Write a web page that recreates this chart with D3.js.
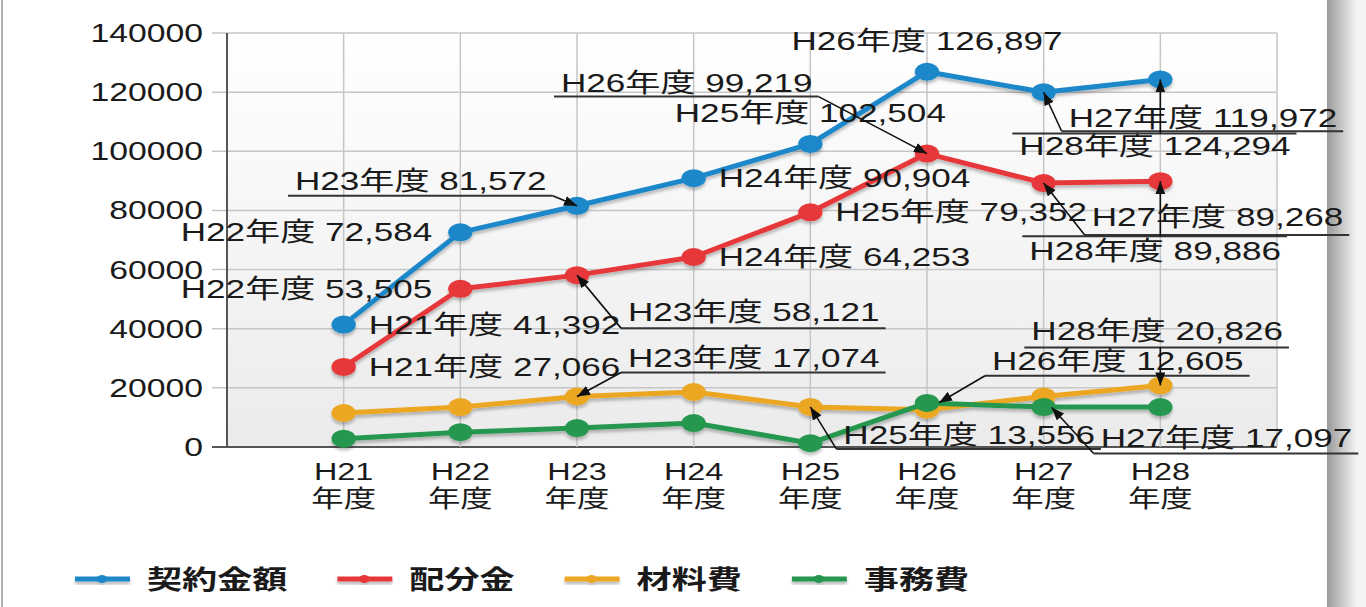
<!DOCTYPE html>
<meta charset="utf-8">
<style>
  body { margin: 0; background: #fff; }
  svg text { font-family: "Liberation Sans", Arial, "Noto Sans CJK JP", sans-serif; fill: #1a1a1a; }
</style>
<body>
<script src="https://cdn.jsdelivr.net/npm/d3@7/dist/d3.min.js"></script>
<script>
// data
var years = ["H21", "H22", "H23", "H24", "H25", "H26", "H27", "H28"];
var seriesNames = ["契約金額", "配分金", "材料費", "事務費"];
var keiyaku = [41392, 72584, 81572, 90904, 102504, 126897, 119972, 124294];
var haibun  = [27066, 53505, 58121, 64253, 79352, 99219, 89268, 89886];
var zairyo  = [11500, 13500, 17074, 18600, 13556, 12605, 17097, 20826];
var jimu    = [2800, 5000, 6400, 8100, 1300, 14900, 13500, 13500];
var yTicks  = [0, 20000, 40000, 60000, 80000, 100000, 120000, 140000];
var colors  = ["#1f88c9", "#e6393a", "#eba623", "#26974f"];

var series = [keiyaku, haibun, zairyo, jimu];

// label placement, offsets in px from the data point
var simpleLabels = [
  {s: 0, i: 5, pos: "above"}, {s: 0, i: 4, pos: "above"},
  {s: 0, i: 1, pos: "left"},  {s: 1, i: 1, pos: "left"},
  {s: 0, i: 0, pos: "right"}, {s: 1, i: 0, pos: "right"},
  {s: 0, i: 3, pos: "right"}, {s: 1, i: 3, pos: "right"},
  {s: 1, i: 4, pos: "right"}
];
var callouts = [
  {s: 0, i: 2, tx: -282, ty: -16, uy: -10, from: "right"},
  {s: 1, i: 5, tx: -366, ty: -62, uy: -57, from: "right"},
  {s: 0, i: 6, tx: 25,   ty: 35,  uy: 39,  from: "left"},
  {s: 0, i: 7, tx: -141, ty: 76,  uy: 54,  from: "center"},
  {s: 1, i: 6, tx: 48,   ty: 43,  uy: 52,  from: "left"},
  {s: 1, i: 7, tx: -131, ty: 79,  uy: 55,  from: "center"},
  {s: 1, i: 2, tx: 51,   ty: 46,  uy: 53,  from: "left"},
  {s: 2, i: 2, tx: 51,   ty: -30, uy: -24, from: "left"},
  {s: 2, i: 4, tx: 33,   ty: 37,  uy: 42,  from: "left"},
  {s: 2, i: 6, tx: 57,   ty: 51,  uy: 57,  from: "left", end: [8, 11]},
  {s: 2, i: 5, tx: 65,   ty: -40, uy: -34, from: "left", end: [12, -7]},
  {s: 2, i: 7, tx: -129, ty: -45, uy: -38, from: "center"}
];

var SX = 1.35; // the picture is stretched sideways
var W = 1366, H = 607;
var plotL = 227, plotR = 1277, plotT = 33, plotB = 447;

var svg = d3.select("body").append("svg")
  .attr("width", W).attr("height", H);

var defs = svg.append("defs");
var grad = defs.append("linearGradient").attr("id", "plotbg")
  .attr("x1", 0).attr("y1", 0).attr("x2", 0).attr("y2", 1);
grad.append("stop").attr("offset", "0%").attr("stop-color", "#ffffff");
grad.append("stop").attr("offset", "100%").attr("stop-color", "#ebebeb");

var edge = defs.append("linearGradient").attr("id", "edge");
edge.append("stop").attr("offset", "0%").attr("stop-color", "#9a9a9a");
edge.append("stop").attr("offset", "100%").attr("stop-color", "#f4f4f4");

defs.append("filter").attr("id", "shadow")
  .attr("x", "-5%").attr("y", "-20%").attr("width", "110%").attr("height", "140%")
  .append("feDropShadow").attr("dx", 0).attr("dy", 3).attr("stdDeviation", 1.8)
  .attr("flood-color", "#000").attr("flood-opacity", 0.25);

defs.append("marker").attr("id", "arrow")
  .attr("markerUnits", "userSpaceOnUse")
  .attr("markerWidth", 14).attr("markerHeight", 10)
  .attr("refX", 13).attr("refY", 5).attr("orient", "auto")
  .append("path").attr("d", "M0,0 L13,5 L0,10 Z").attr("fill", "#111");

// page frame
svg.append("rect").attr("x", 1).attr("y", 0).attr("width", 2).attr("height", H).attr("fill", "#b0b0b0");
svg.append("rect").attr("x", 1327).attr("y", 0).attr("width", 30).attr("height", H).attr("fill", "url(#edge)");
svg.append("rect").attr("x", 1357).attr("y", 0).attr("width", 9).attr("height", H).attr("fill", "#f4f4f4");

var x = d3.scaleLinear().domain([0, years.length + 1]).range([plotL, plotR]);
var y = d3.scaleLinear().domain([0, 140000]).range([plotB, plotT]);

function stretched(sel, px, py) {
  return sel.attr("transform", "translate(" + px + "," + py + ") scale(" + SX + ",1)");
}

svg.append("rect").attr("x", plotL).attr("y", plotT)
  .attr("width", plotR - plotL).attr("height", plotB - plotT)
  .attr("fill", "url(#plotbg)");

// grid
svg.append("g").selectAll("line").data(yTicks).enter().append("line")
  .attr("x1", plotL - 15).attr("x2", plotR)
  .attr("y1", function(d) { return y(d); }).attr("y2", function(d) { return y(d); })
  .attr("stroke", function(d) { return d === 0 ? "#555" : "#c6c6c6"; })
  .attr("stroke-width", function(d) { return d === 0 ? 2 : 1.5; });
svg.append("g").selectAll("line").data(d3.range(years.length + 2)).enter().append("line")
  .attr("x1", function(d) { return x(d); }).attr("x2", function(d) { return x(d); })
  .attr("y1", plotT).attr("y2", plotB)
  .attr("stroke", function(d) { return d === 0 ? "#555" : "#c6c6c6"; })
  .attr("stroke-width", function(d) { return d === 0 ? 2 : 1.5; });

// y tick labels
svg.append("g").selectAll("text").data(yTicks).enter().append("text")
  .attr("text-anchor", "end").attr("dy", "0.36em")
  .style("font-size", "25px")
  .text(function(d) { return d; })
  .each(function(d) { stretched(d3.select(this), plotL - 24, y(d)); });

// x tick labels, two lines each
var xl = svg.append("g").selectAll("g").data(years).enter().append("g")
  .each(function(d, i) { stretched(d3.select(this), x(i + 1), 0); });
xl.append("text").attr("text-anchor", "middle").attr("y", 480)
  .style("font-size", "24px").text(function(d) { return d; });
xl.append("text").attr("text-anchor", "middle").attr("y", 507)
  .style("font-size", "24px").text("年度");

// lines and markers
var line = d3.line()
  .x(function(d, i) { return x(i + 1); })
  .y(function(d) { return y(d); });

var plot = svg.append("g").attr("filter", "url(#shadow)");
series.forEach(function(vals, k) {
  plot.append("path").datum(vals)
    .attr("d", line).attr("fill", "none")
    .attr("stroke", colors[k]).attr("stroke-width", 5)
    .attr("stroke-linejoin", "round");
  plot.append("g").selectAll("ellipse").data(vals).enter().append("ellipse")
    .attr("cx", function(d, i) { return x(i + 1); })
    .attr("cy", function(d) { return y(d); })
    .attr("rx", 9 * SX).attr("ry", 9)
    .attr("fill", colors[k]);
});

var fmt = d3.format(",");
function labelText(d) { return years[d.i] + "年度 " + fmt(series[d.s][d.i]); }
function px(d) { return x(d.i + 1); }
function py(d) { return y(series[d.s][d.i]); }

var labels = svg.append("g");

simpleLabels.forEach(function(d) {
  var t = labels.append("text").style("font-size", "26px").text(labelText(d));
  if (d.pos === "above") {
    t.attr("text-anchor", "middle");
    stretched(t, px(d), py(d) - 22);
  } else if (d.pos === "left") {
    t.attr("text-anchor", "end");
    stretched(t, px(d) - 28, py(d) + 9);
  } else {
    stretched(t, px(d) + 25, py(d) + 9);
  }
});

callouts.forEach(function(d) {
  var t = labels.append("text").style("font-size", "26px").text(labelText(d));
  stretched(t, px(d) + d.tx, py(d) + d.ty);
  var w = t.node().getComputedTextLength() * SX;
  var u0 = px(d) + d.tx - 7, u1 = px(d) + d.tx + w + 6, uy = py(d) + d.uy;
  labels.append("line")
    .attr("x1", u0).attr("x2", u1).attr("y1", uy).attr("y2", uy)
    .attr("stroke", "#333").attr("stroke-width", 2);
  var sx = d.from === "left" ? u0 : d.from === "right" ? u1 : px(d);
  var e = d.end || [0, 0];
  labels.append("line")
    .attr("x1", sx).attr("y1", uy)
    .attr("x2", px(d) + e[0]).attr("y2", py(d) + e[1])
    .attr("stroke", "#111").attr("stroke-width", 1.6)
    .attr("marker-end", "url(#arrow)");
});

// legend
var lx = 75, ly = 579;
var legend = svg.append("g").attr("filter", "url(#shadow)");
seriesNames.forEach(function(name, k) {
  legend.append("line").attr("x1", lx).attr("x2", lx + 55)
    .attr("y1", ly).attr("y2", ly)
    .attr("stroke", colors[k]).attr("stroke-width", 5);
  legend.append("ellipse").attr("cx", lx + 27).attr("cy", ly)
    .attr("rx", 4 * SX).attr("ry", 4).attr("fill", colors[k]);
  var t = svg.append("text").style("font-size", "26px").style("font-weight", "bold")
    .style("font-family", "'Noto Sans CJK JP', sans-serif")
    .text(name);
  stretched(t, lx + 72, ly + 10);
  lx = lx + 72 + t.node().getComputedTextLength() * SX + 50;
});
</script>
</body>
